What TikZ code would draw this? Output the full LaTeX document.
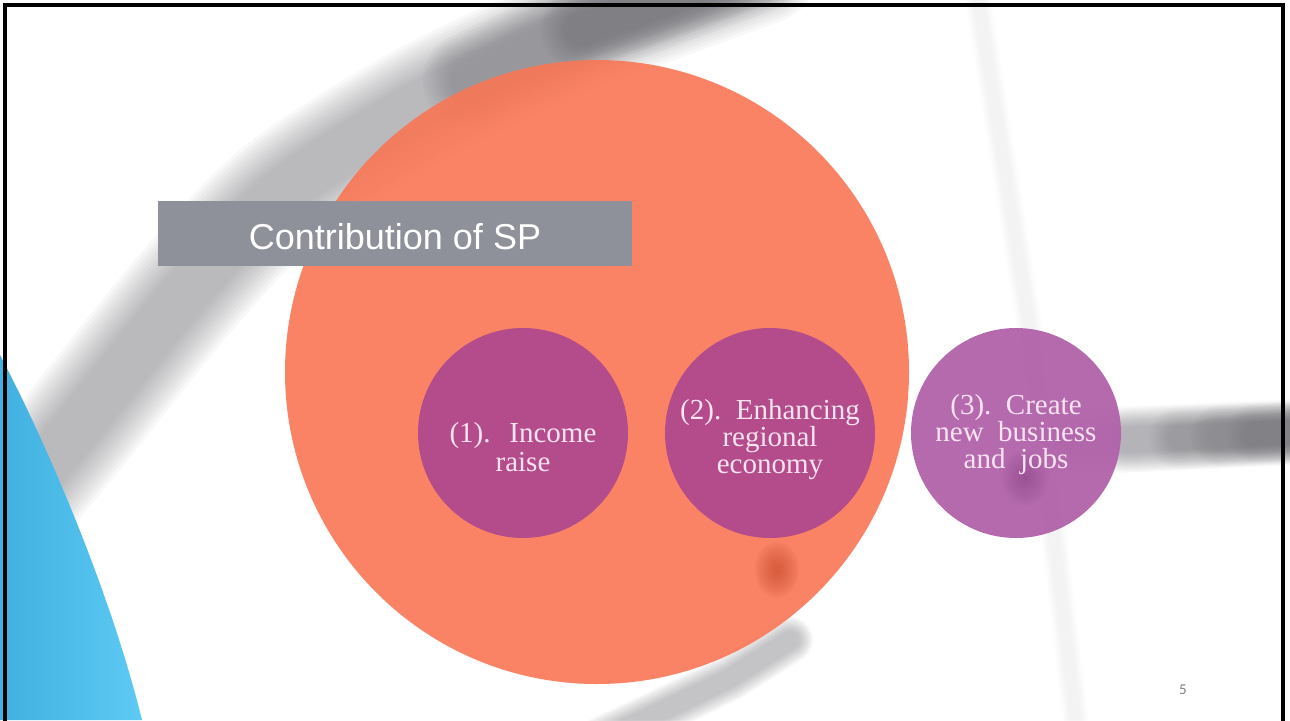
\documentclass[tikz,border=0pt]{standalone}
\usepackage{fontspec}
\setmainfont{Liberation Serif}
\newfontfamily\titlefont{Liberation Sans}
\newfontfamily\pagefont{Carlito}
\definecolor{orangeC}{RGB}{249,118,84}
\definecolor{spotC}{RGB}{196,70,40}
\definecolor{purpA}{RGB}{180,76,140}
\definecolor{purpB}{RGB}{178,98,170}
\definecolor{blobC}{RGB}{120,50,115}
\definecolor{titleGray}{RGB}{142,145,153}
\definecolor{bandGray}{RGB}{100,100,106}
\definecolor{lineGray}{RGB}{190,190,196}
\definecolor{blueA}{RGB}{66,176,224}
\definecolor{blueB}{RGB}{92,202,243}
\definecolor{circText}{RGB}{248,228,240}
\definecolor{pageGray}{RGB}{128,128,128}
\newcommand{\wsp}{\hspace{0.5em}}
% soft band: 12 strokes, widths from #3 down to 0.35*#3
\newcommand{\blurpath}[4]{%
  \foreach \k in {1,...,12}{%
    \draw[line cap=round,line join=round,draw=#2,draw opacity=#4,
          line width={#3*(0.35+0.65*(13-\k)/12)}] #1;}}
\newcommand{\softblob}[5]{% center, rx, ry, colour, opacity
  \foreach \k in {1,...,12}{%
    \fill[#4,opacity=#5] #1 ellipse ({#2*(13-\k)/12*1pt} and {#3*(13-\k)/12*1pt});}}
\tikzset{
  bigcirc/.style={circle,fill=orangeC,fill opacity=0.9,minimum size=624pt,inner sep=0pt},
  smallcirc/.style={circle,minimum size=210pt,inner sep=0pt},
  ctext/.style={text=circText,align=center,inner sep=0pt,
    font=\fontsize{29}{27}\selectfont},
  titlebox/.style={rectangle,fill=titleGray,minimum width=474pt,minimum height=65pt,
    inner sep=0pt,text=white,text height=31pt,text depth=0pt,
    font=\titlefont\fontsize{36}{36}\selectfont},
}
\begin{document}
\begin{tikzpicture}[x=1pt,y=-1pt]
\useasboundingbox (0,0) rectangle (1290,720);
\fill[white] (0,0) rectangle (1290,720);

% faint thin line on the right
\blurpath{(975,-20) -- (1030,330) -- (1078,740)}{lineGray}{26}{0.01}
% upper curved band
\blurpath{plot[smooth] coordinates {(25,490) (75,430) (188,290) (283,192) (420,105) (560,38) (650,5) (760,-35)}}{bandGray}{120}{0.045}
\blurpath{plot[smooth] coordinates {(470,80) (560,38) (650,5) (760,-35)}}{bandGray}{95}{0.035}
\blurpath{plot[smooth] coordinates {(580,30) (650,5) (760,-35)}}{bandGray}{80}{0.04}
% shadow below the orange circle
\blurpath{(790,640) -- (730,678) -- (660,712) -- (600,740)}{bandGray}{46}{0.035}
% right horizontal band
\blurpath{(1070,442) -- (1300,432)}{bandGray}{66}{0.028}
\blurpath{(1130,440) -- (1300,432)}{bandGray}{64}{0.018}
\blurpath{(1180,438) -- (1300,432)}{bandGray}{62}{0.018}
\blurpath{(1220,436) -- (1300,432)}{bandGray}{60}{0.018}
\blurpath{(1255,434) -- (1300,432)}{bandGray}{58}{0.02}

% blue shape at the left
\shade[left color=blueA,right color=blueB]
  (0,355) .. controls (45,440) and (110,590) .. (142,720) -- (0,720) -- cycle;

% big orange circle
\node[bigcirc] (big) at (597,372) {};
% darker spot on the orange circle
\softblob{(777,570)}{22}{28}{spotC}{0.065}

% title
\node[titlebox] (title) at (395,233.5) {Contribution of SP};

% small circles
\node[smallcirc,fill=purpA] (c1) at (523,433) {};
\node[smallcirc,fill=purpA] (c2) at (770,433) {};
\node[smallcirc,fill=purpB,fill opacity=0.95] (c3) at (1016,433) {};
\softblob{(1025,478)}{24}{28}{blobC}{0.035}

\node[ctext,font=\fontsize{29}{29}\selectfont] (t1) at (523,447) {(1).\hspace{0.65em}Income\\raise};
\node[ctext] (t2) at (770,440) {(2).\wsp Enhancing\\regional\\economy};
\node[ctext] (t3) at (1016,435) {(3).\wsp Create\\new\wsp business\\and\wsp jobs};

% page number
\node[text=pageGray,font=\pagefont\fontsize{15}{15}\selectfont] (pg) at (1183,690) {5};

% frame
\draw[line width=4pt] (5,725) -- (5,5) -- (1283,5) -- (1283,725);
\end{tikzpicture}
\end{document}
